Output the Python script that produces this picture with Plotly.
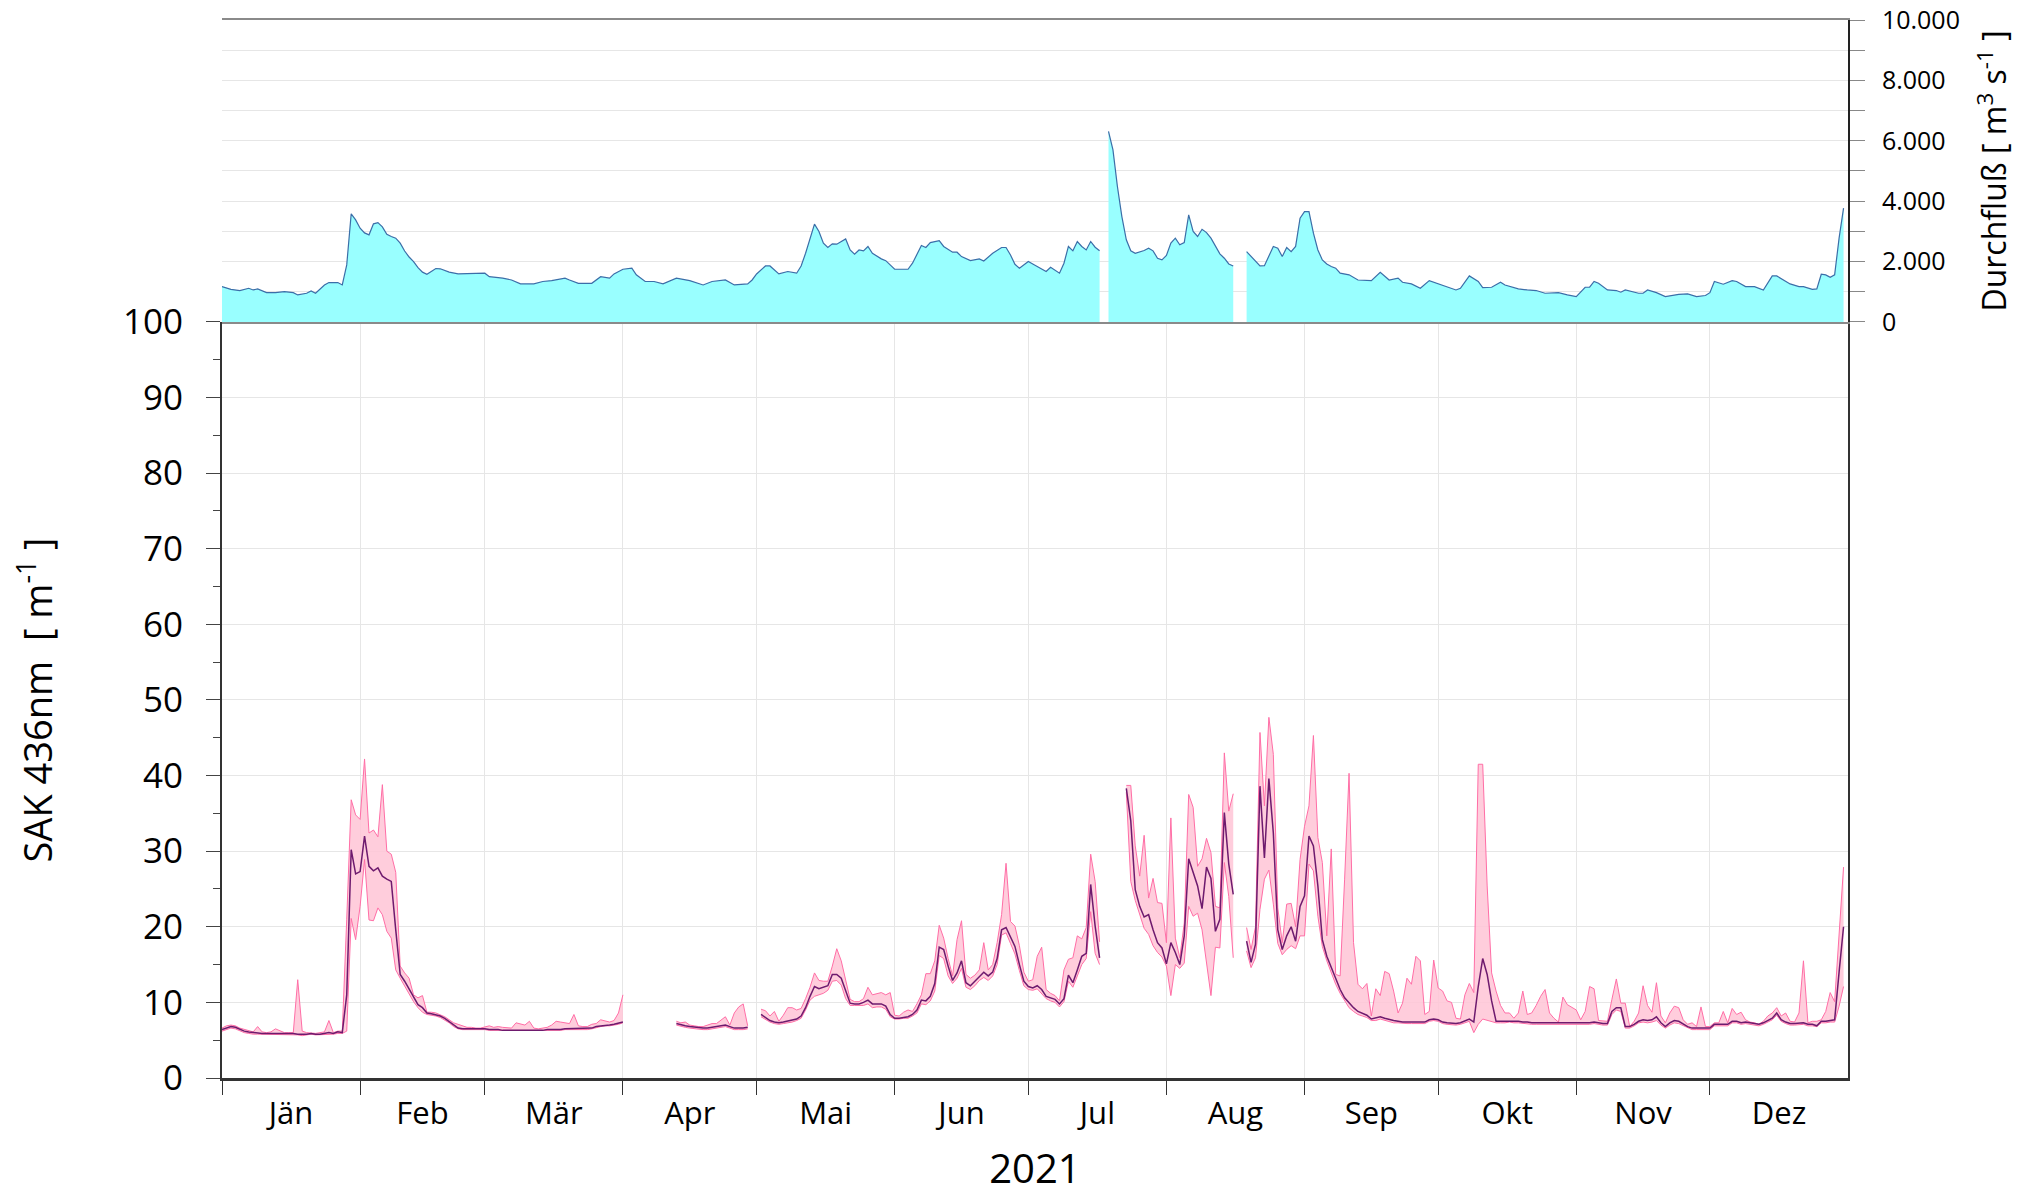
import pandas as pd
import plotly.graph_objects as go

# ---------------- data ----------------
YEAR_START = "2021-01-01"
month_labels = ["Jän", "Feb", "Mär", "Apr", "Mai", "Jun", "Jul", "Aug", "Sep", "Okt", "Nov", "Dez"]

# SAK 436nm: day-of-year offsets (0 = 1 Jan) per contiguous data segment
seg_days = [
    list(range(0, 91)),
    list(range(102, 119)),
    list(range(121, 198)),
    list(range(203, 228)),
    list(range(230, 365)),
]

sak_mean = [
    [6.4, 6.6, 6.8, 6.7, 6.4, 6.2, 6.1, 6.0, 6.0, 5.9,
     5.9, 5.9, 5.9, 5.9, 5.9, 5.9, 5.9, 5.8, 5.8, 5.8,
     5.9, 5.8, 5.8, 5.9, 6.0, 5.9, 6.1, 6.0, 11.0, 30.2,
     27.0, 27.3, 32.0, 28.0, 27.4, 27.8, 26.7, 26.3, 26.0, 19.6,
     13.7, 12.8, 11.7, 10.6, 9.7, 9.3, 8.6, 8.5, 8.4, 8.2,
     7.9, 7.5, 7.0, 6.6, 6.5, 6.5, 6.5, 6.5, 6.5, 6.5,
     6.4, 6.4, 6.4, 6.3, 6.3, 6.3, 6.3, 6.3, 6.3, 6.3,
     6.3, 6.3, 6.3, 6.4, 6.4, 6.4, 6.4, 6.5, 6.5, 6.5,
     6.5, 6.5, 6.5, 6.6, 6.8, 6.9, 7.0, 7.0, 7.1, 7.2, 7.4],
    [7.2, 7.0, 6.9, 6.8, 6.7, 6.7, 6.6, 6.6, 6.7, 6.8, 6.9, 7.0, 6.8, 6.6, 6.6, 6.6, 6.7],
    [8.4, 8.0, 7.6, 7.4, 7.3, 7.4, 7.5, 7.6, 7.8, 8.2,
     9.3, 10.8, 12.1, 11.8, 12.0, 12.2, 13.7, 13.7, 13.2, 11.5,
     9.9, 9.8, 9.8, 10.0, 10.3, 9.8, 9.8, 9.8, 9.5, 8.4,
     7.9, 7.9, 8.0, 8.1, 8.4, 9.0, 10.3, 10.2, 10.8, 12.5,
     17.3, 17.0, 14.8, 12.9, 13.9, 15.5, 12.6, 12.2, 12.8, 13.4,
     14.0, 13.5, 14.0, 15.8, 19.6, 19.9, 18.7, 17.4, 15.0, 12.8,
     12.1, 11.9, 12.2, 11.7, 10.8, 10.6, 10.4, 9.8, 10.5, 13.6,
     12.6, 14.3, 16.1, 16.5, 25.6, 20.1, 15.9],
    [38.3, 34.0, 24.9, 22.7, 21.3, 21.6, 19.6, 17.9, 17.2, 15.1,
     17.9, 16.6, 15.0, 18.8, 29.0, 27.2, 25.4, 22.4, 27.9, 26.4,
     19.4, 21.0, 35.1, 28.3, 24.3],
    [18.1, 15.3, 17.7, 38.6, 29.1, 39.6, 32.4, 19.6, 17.0, 18.8,
     20.0, 18.1, 22.7, 24.1, 32.0, 30.7, 25.4, 18.3, 16.1, 14.6,
     13.0, 11.7, 10.6, 9.9, 9.3, 8.8, 8.6, 8.3, 7.8, 7.9,
     8.1, 7.9, 7.7, 7.6, 7.5, 7.4, 7.4, 7.4, 7.4, 7.4,
     7.4, 7.7, 7.8, 7.7, 7.4, 7.3, 7.2, 7.2, 7.3, 7.5,
     7.8, 7.4, 12.1, 15.8, 13.7, 10.2, 7.5, 7.5, 7.5, 7.6,
     7.5, 7.5, 7.4, 7.4, 7.3, 7.3, 7.3, 7.3, 7.3, 7.3,
     7.3, 7.3, 7.3, 7.3, 7.2, 7.3, 7.3, 7.3, 7.4, 7.3,
     7.2, 7.2, 8.8, 9.3, 9.3, 6.8, 6.8, 7.1, 7.5, 7.7,
     7.6, 7.7, 8.1, 7.3, 6.8, 7.3, 7.6, 7.5, 7.1, 6.8,
     6.6, 6.6, 6.6, 6.6, 6.6, 7.1, 7.1, 7.1, 7.1, 7.5,
     7.5, 7.3, 7.4, 7.3, 7.2, 7.1, 7.3, 7.6, 7.9, 8.6,
     7.7, 7.4, 7.2, 7.2, 7.2, 7.3, 7.1, 7.1, 6.9, 7.5,
     7.5, 7.6, 7.7, 14.0, 20.0],
]

sak_max = [
    [6.6, 6.9, 7.0, 6.9, 6.6, 6.4, 6.2, 6.1, 6.8, 6.1,
     6.0, 6.1, 6.5, 6.2, 6.0, 6.0, 6.0, 13.0, 6.2, 6.0,
     5.9, 5.9, 6.0, 6.1, 7.6, 6.0, 6.2, 6.2, 21.0, 36.8,
     34.8, 34.2, 42.2, 32.4, 32.8, 31.9, 38.8, 30.0, 29.6, 27.2,
     14.8, 13.9, 13.2, 11.0, 10.6, 10.9, 8.7, 8.7, 8.6, 8.4,
     8.1, 7.7, 7.3, 7.1, 6.9, 6.7, 6.7, 6.6, 6.6, 6.7,
     6.9, 6.7, 6.8, 6.7, 6.6, 6.6, 7.3, 7.2, 7.0, 7.5,
     6.6, 6.5, 6.6, 6.7, 7.0, 7.5, 7.4, 7.3, 7.2, 8.4,
     6.9, 6.8, 6.8, 7.1, 7.2, 7.7, 7.5, 7.4, 7.6, 8.6, 11.0],
    [7.5, 7.3, 7.4, 7.0, 6.9, 6.8, 6.8, 7.0, 7.2, 7.2, 7.6, 8.1, 7.0, 8.6, 9.4, 9.8, 6.9],
    [9.1, 8.9, 8.2, 8.8, 7.5, 8.3, 9.3, 9.3, 9.0, 9.2,
     10.5, 12.0, 13.9, 12.9, 12.8, 12.8, 14.8, 17.1, 15.5, 13.0,
     10.4, 10.1, 10.1, 10.5, 12.0, 11.0, 11.2, 11.3, 11.0, 11.3,
     8.3, 8.2, 8.7, 9.0, 8.8, 9.8, 11.0, 13.8, 13.8, 15.5,
     20.2, 18.5, 15.8, 13.5, 18.3, 20.8, 13.7, 13.2, 13.6, 14.3,
     17.9, 14.3, 15.0, 17.9, 21.6, 28.4, 20.7, 20.1, 17.5, 14.0,
     12.8, 13.0, 16.1, 17.3, 11.7, 11.2, 10.9, 10.2, 14.3, 15.7,
     15.9, 18.8, 18.4, 19.9, 29.6, 26.0, 18.0],
    [38.7, 38.7, 30.7, 26.7, 32.1, 23.8, 26.4, 23.2, 23.1, 17.9,
     34.4, 18.5, 15.9, 20.5, 37.5, 35.8, 28.0, 29.0, 31.7, 29.8,
     22.7, 22.5, 43.0, 35.3, 37.6],
    [19.9, 17.0, 20.0, 45.7, 36.0, 47.7, 42.8, 22.5, 17.9, 23.0,
     23.1, 20.0, 28.9, 33.3, 36.0, 45.3, 31.8, 28.5, 18.8, 30.3,
     13.7, 13.5, 26.3, 40.3, 17.9, 12.4, 11.8, 12.5, 8.2, 11.8,
     10.9, 14.1, 13.8, 11.5, 8.6, 9.9, 13.2, 12.4, 16.1, 15.5,
     8.4, 8.8, 15.6, 11.9, 11.5, 10.2, 10.0, 7.9, 7.8, 11.0,
     12.5, 11.3, 41.5, 41.5, 25.4, 13.9, 11.5, 9.6, 8.6, 8.6,
     7.9, 8.6, 11.5, 8.4, 8.6, 9.6, 10.8, 11.7, 8.6, 7.9,
     7.4, 10.7, 9.7, 9.3, 9.0, 7.7, 8.8, 12.1, 11.8, 7.6,
     7.6, 7.5, 10.4, 13.1, 9.9, 9.9, 6.8, 7.5, 8.6, 12.2,
     9.6, 8.7, 12.6, 8.2, 7.3, 8.6, 9.5, 9.3, 7.7, 7.1,
     7.3, 6.8, 9.4, 6.8, 6.8, 7.3, 7.3, 8.8, 7.3, 9.2,
     8.4, 8.7, 7.7, 7.4, 7.3, 7.1, 7.5, 8.2, 8.6, 9.3,
     8.2, 8.6, 7.5, 7.4, 8.6, 15.5, 7.3, 7.5, 7.5, 7.7,
     8.8, 11.3, 10.1, 19.0, 27.9],
]

sak_min = [
    [6.2, 6.4, 6.6, 6.5, 6.2, 6.0, 5.9, 5.8, 5.8, 5.8,
     5.8, 5.8, 5.8, 5.8, 5.8, 5.8, 5.8, 5.7, 5.6, 5.7,
     5.8, 5.7, 5.7, 5.8, 5.8, 5.8, 5.9, 5.9, 6.2, 21.1,
     18.3, 22.7, 28.9, 20.9, 20.8, 22.5, 21.6, 19.4, 18.5, 14.3,
     13.2, 12.1, 11.0, 10.1, 9.3, 8.7, 8.4, 8.3, 8.2, 8.0,
     7.7, 7.3, 6.8, 6.5, 6.4, 6.4, 6.4, 6.4, 6.4, 6.4,
     6.3, 6.3, 6.3, 6.2, 6.2, 6.2, 6.2, 6.2, 6.2, 6.2,
     6.2, 6.2, 6.2, 6.3, 6.3, 6.3, 6.3, 6.4, 6.4, 6.4,
     6.4, 6.4, 6.4, 6.5, 6.7, 6.8, 6.9, 6.9, 7.0, 7.1, 7.3],
    [7.0, 6.8, 6.7, 6.6, 6.5, 6.5, 6.4, 6.4, 6.5, 6.6, 6.7, 6.8, 6.6, 6.4, 6.4, 6.4, 6.5],
    [8.1, 7.7, 7.4, 7.2, 7.1, 7.2, 7.3, 7.4, 7.6, 7.9,
     9.0, 10.3, 10.8, 11.0, 11.2, 11.6, 12.8, 12.9, 12.3, 10.5,
     9.6, 9.6, 9.6, 9.6, 9.8, 9.3, 9.4, 9.4, 9.1, 8.1,
     7.8, 7.8, 7.9, 7.9, 8.2, 8.6, 9.8, 9.7, 10.2, 11.5,
     16.2, 15.8, 13.5, 12.5, 13.2, 14.5, 12.0, 11.7, 12.2, 12.9,
     13.3, 12.9, 13.5, 15.0, 18.9, 19.2, 17.8, 16.4, 14.2, 12.2,
     11.7, 11.6, 11.8, 11.1, 10.5, 10.2, 10.0, 9.4, 10.1, 12.8,
     12.0, 13.5, 15.0, 15.8, 22.0, 16.5, 15.0],
    [37.8, 26.0, 23.5, 21.5, 19.8, 19.0, 17.5, 16.6, 16.0, 14.8,
     10.9, 15.0, 14.5, 15.2, 22.7, 21.4, 21.8, 19.6, 15.5, 10.9,
     17.3, 17.2, 28.5, 24.0, 15.9],
    [16.8, 14.6, 15.9, 22.3, 26.3, 27.5, 23.0, 17.8, 16.3, 17.0,
     17.5, 17.1, 18.8, 18.8, 28.3, 27.4, 21.4, 17.4, 15.5, 13.9,
     12.4, 11.2, 10.2, 9.3, 8.8, 8.4, 8.2, 8.0, 7.6, 7.6,
     7.8, 7.6, 7.4, 7.3, 7.3, 7.2, 7.2, 7.2, 7.2, 7.2,
     7.2, 7.5, 7.6, 7.5, 7.2, 7.1, 7.0, 7.0, 7.1, 7.3,
     7.5, 6.0, 7.1, 7.8, 7.6, 7.5, 7.3, 7.3, 7.3, 7.4,
     7.3, 7.3, 7.2, 7.2, 7.1, 7.1, 7.1, 7.1, 7.1, 7.1,
     7.1, 7.1, 7.1, 7.1, 7.0, 7.1, 7.1, 7.1, 7.2, 7.1,
     7.0, 7.0, 8.4, 9.0, 8.8, 6.6, 6.6, 6.9, 7.3, 7.4,
     7.3, 7.4, 7.6, 7.0, 6.6, 7.0, 7.3, 7.2, 6.9, 6.6,
     6.4, 6.4, 6.4, 6.4, 6.4, 6.9, 6.9, 6.9, 6.9, 7.3,
     7.3, 7.1, 7.2, 7.1, 7.0, 6.9, 7.1, 7.4, 7.7, 8.3,
     7.5, 7.2, 7.0, 7.0, 7.0, 7.1, 6.9, 6.9, 6.8, 7.3,
     7.3, 7.4, 7.4, 9.5, 12.1],
]

# Discharge (Durchfluss, m3/s): day offsets and values, None = missing
flow_days = [0, 2, 4, 6, 7, 8, 10, 12, 14, 16, 17, 19, 20, 21, 23, 24, 26, 27, 28, 29,
             30, 31, 32, 33, 34, 35, 36, 37, 38, 39, 40, 41, 42, 43, 44, 45, 46, 47, 48, 49,
             51, 53, 55, 57, 59, 60, 63, 65, 67, 70, 72, 74, 77, 78, 80, 83, 85, 87, 88, 90,
             92, 93, 95, 97, 99, 102, 105, 108, 110, 113, 115, 118, 119, 120, 122, 123, 125, 127, 129, 130,
             131, 133, 134, 135, 136, 137, 138, 140, 141, 142, 143, 144, 145, 146, 148, 149, 151, 154, 155, 157,
             158, 159, 161, 162, 164, 165, 166, 168, 170, 171, 173, 175, 176, 177, 178, 179, 181, 182, 184, 185,
             186, 188, 189, 190, 191, 192, 193, 194, 195, 196, 197, 198, 199, 200, 201, 202, 203, 204, 205, 207,
             208, 209, 210, 211, 212, 213, 214, 215, 216, 217, 218, 219, 220, 221, 222, 223, 224, 225, 226, 227,
             228, 230, 231, 233, 234, 235, 236, 237, 238, 239, 240, 241, 242, 243, 244, 245, 246, 247, 248, 249,
             250, 251, 253, 255, 257, 258, 260, 262, 264, 265, 267, 269, 271, 273, 275, 277, 278, 279, 280, 282,
             283, 285, 287, 288, 291, 293, 295, 297, 300, 302, 304, 306, 307, 308, 309, 311, 313, 314, 315, 318,
             319, 320, 322, 324, 327, 329, 331, 333, 334, 335, 337, 339, 340, 342, 344, 346, 348, 349, 352, 354,
             355, 357, 358, 359, 360, 361, 362, 363, 364]
flow_vals = [1170, 1080, 1040, 1115, 1060, 1095, 970, 970, 1005, 970, 895, 950, 1030, 950, 1225, 1305, 1305, 1225, 1890, 3580,
             3380, 3105, 2950, 2885, 3250, 3290, 3150, 2900, 2830, 2775, 2610, 2350, 2150, 2000, 1800, 1650, 1580, 1670, 1770, 1760,
             1650, 1590, 1590, 1615, 1615, 1500, 1450, 1390, 1260, 1260, 1340, 1370, 1450, 1390, 1280, 1280, 1500, 1450, 1590, 1745,
             1780, 1560, 1340, 1340, 1260, 1450, 1370, 1225, 1340, 1390, 1225, 1260, 1390, 1590, 1855, 1855, 1590, 1670, 1615, 1855,
             2275, 3240, 2995, 2610, 2465, 2585, 2575, 2750, 2385, 2245, 2385, 2355, 2500, 2275, 2090, 2030, 1745, 1745, 1945, 2530,
             2465, 2630, 2695, 2500, 2310, 2310, 2165, 2030, 2090, 2020, 2275, 2465, 2465, 2220, 1910, 1780, 2000, 1920, 1745, 1670,
             1810, 1615, 1945, 2500, 2355, 2665, 2500, 2385, 2665, 2475, 2355, None, 6310, 5700, 4485, 3490, 2720, 2355, 2275, 2365,
             2440, 2355, 2110, 2055, 2200, 2610, 2775, 2555, 2630, 3545, 2995, 2830, 3070, 2960, 2775, 2500, 2255, 2110, 1920, 1855,
             None, 2330, 2165, 1855, 1865, 2200, 2500, 2440, 2165, 2465, 2330, 2500, 3435, 3655, 3655, 2940, 2385, 2055, 1920, 1835,
             1780, 1615, 1560, 1390, 1370, 1370, 1645, 1390, 1450, 1315, 1260, 1115, 1370, 1260, 1170, 1060, 1115, 1340, 1525, 1340,
             1140, 1150, 1315, 1225, 1095, 1060, 1040, 950, 970, 895, 840, 1150, 1150, 1340, 1280, 1060, 1040, 985, 1060, 950,
             950, 1060, 970, 840, 915, 930, 840, 875, 970, 1340, 1250, 1370, 1340, 1170, 1170, 1060, 1525, 1525, 1260, 1170,
             1170, 1080, 1095, 1580, 1560, 1480, 1560, 2775, 3770]

# ---------------- figure ----------------
base = pd.Timestamp(YEAR_START)


def to_dates(days):
    return [base + pd.Timedelta(days=d) for d in days]


def split_gaps(days, vals):
    """Split a series at missing values into contiguous segments."""
    segs, cur_d, cur_v = [], [], []
    for d, v in zip(days, vals):
        if v is None:
            if cur_d:
                segs.append((cur_d, cur_v))
            cur_d, cur_v = [], []
        else:
            cur_d.append(d)
            cur_v.append(v)
    if cur_d:
        segs.append((cur_d, cur_v))
    return segs


month_starts = [base + pd.DateOffset(months=i) for i in range(12)]
month_mids = [base + pd.DateOffset(months=i) + (base + pd.DateOffset(months=i + 1) - (base + pd.DateOffset(months=i))) / 2
              for i in range(12)]
x_range = [base, base + pd.DateOffset(years=1)]

FILL_PINK = "rgba(255,196,214,0.85)"
EDGE_PINK = "#FF6EA6"
MEAN_COL = "#6E1A6E"
FLOW_FILL = "#99FFFF"
FLOW_LINE = "#3B6EA8"
GRID = "#E6E6E6"
FONT = "Open Sans, Noto Sans, sans-serif"

fig = go.Figure()

for d, v in split_gaps(flow_days, flow_vals):
    fig.add_trace(go.Scatter(
        x=to_dates(d), y=v, mode="lines",
        line=dict(color=FLOW_LINE, width=1.2), fill="tozeroy", fillcolor=FLOW_FILL,
        xaxis="x2", yaxis="y2", hoverinfo="skip"))

for days, lo, hi in zip(seg_days, sak_min, sak_max):
    xd = to_dates(days)
    fig.add_trace(go.Scatter(x=xd, y=lo, mode="lines", line=dict(color=EDGE_PINK, width=1),
                             xaxis="x", yaxis="y", hoverinfo="skip"))
    fig.add_trace(go.Scatter(x=xd, y=hi, mode="lines", line=dict(color=EDGE_PINK, width=1),
                             fill="tonexty", fillcolor=FILL_PINK, xaxis="x", yaxis="y", hoverinfo="skip"))

# mean line drawn on the overlaying x-axis that carries the month labels (same range)
for days, m in zip(seg_days, sak_mean):
    fig.add_trace(go.Scatter(x=to_dates(days), y=m, mode="lines", line=dict(color=MEAN_COL, width=1.5),
                             xaxis="x3", yaxis="y", hoverinfo="skip"))

SPLIT = 0.7146

fig.update_layout(
    width=2040, height=1192,
    margin=dict(l=214, r=200, t=12, b=122, autoexpand=False),
    paper_bgcolor="white", plot_bgcolor="white",
    showlegend=False,
    separators=",.",
    font=dict(family=FONT, color="black"),
    xaxis=dict(
        domain=[0, 1], anchor="y", type="date", range=x_range, automargin=False,
        tickmode="array", tickvals=month_starts, ticktext=[""] * 12,
        ticks="outside", ticklen=14, tickcolor="#333", tickwidth=1.2,
        showgrid=True, gridcolor=GRID, gridwidth=1,
        showline=True, linecolor="#333", linewidth=2.5, zeroline=False,
    ),
    xaxis3=dict(
        overlaying="x", anchor="y", side="bottom", type="date", range=x_range, automargin=False,
        tickmode="array", tickvals=month_mids, ticktext=month_labels,
        ticks="", showgrid=False, showline=False, zeroline=False,
        tickfont=dict(size=31), ticklabelstandoff=14,
        title=dict(text="2021", font=dict(size=40), standoff=22),
    ),
    xaxis2=dict(
        domain=[0, 1], anchor="y2", matches="x", type="date", automargin=False,
        showticklabels=False, ticks="", showgrid=False,
        showline=True, linecolor="#8A8A8A", linewidth=1.5, mirror=True, zeroline=False,
    ),
    yaxis=dict(
        domain=[0, SPLIT], anchor="x", range=[0, 100], automargin=False,
        tickmode="linear", tick0=0, dtick=10,
        ticks="outside", ticklen=14, tickcolor="#444", tickwidth=1.2,
        minor=dict(dtick=5, ticks="outside", ticklen=7, tickcolor="#444", showgrid=False),
        showgrid=True, gridcolor=GRID, gridwidth=1,
        showline=True, linecolor="#333", linewidth=1.8, mirror=True, zeroline=False,
        tickfont=dict(size=35), ticklabelstandoff=16, ticklabeloverflow="allow",
        title=dict(text="SAK 436nm  [ m<sup>-1</sup> ]", font=dict(size=38), standoff=73),
    ),
    yaxis2=dict(
        domain=[SPLIT, 1], anchor="x2", side="right", range=[0, 10000], automargin=False,
        tickmode="linear", tick0=0, dtick=2000,
        ticks="outside", ticklen=15, tickcolor="#888", tickwidth=1.2,
        minor=dict(dtick=1000, ticks="outside", ticklen=15, tickcolor="#888",
                   showgrid=True, gridcolor=GRID),
        showgrid=True, gridcolor=GRID, gridwidth=1,
        showline=True, linecolor="#222", linewidth=1.8, zeroline=False,
        separatethousands=True, tickformat=",d",
        tickfont=dict(size=25), ticklabelstandoff=12, ticklabeloverflow="allow",
        title=dict(text="Durchfluß [ m<sup>3</sup> s<sup>-1</sup> ]", font=dict(size=32), standoff=25),
    ),
    yaxis3=dict(
        overlaying="y2", anchor="x2", side="left", range=[0, 10000], automargin=False,
        showticklabels=False, ticks="", showgrid=False, zeroline=False,
        showline=True, linecolor="#8A8A8A", linewidth=1.5,
    ),
)

fig.write_html("out.html")
